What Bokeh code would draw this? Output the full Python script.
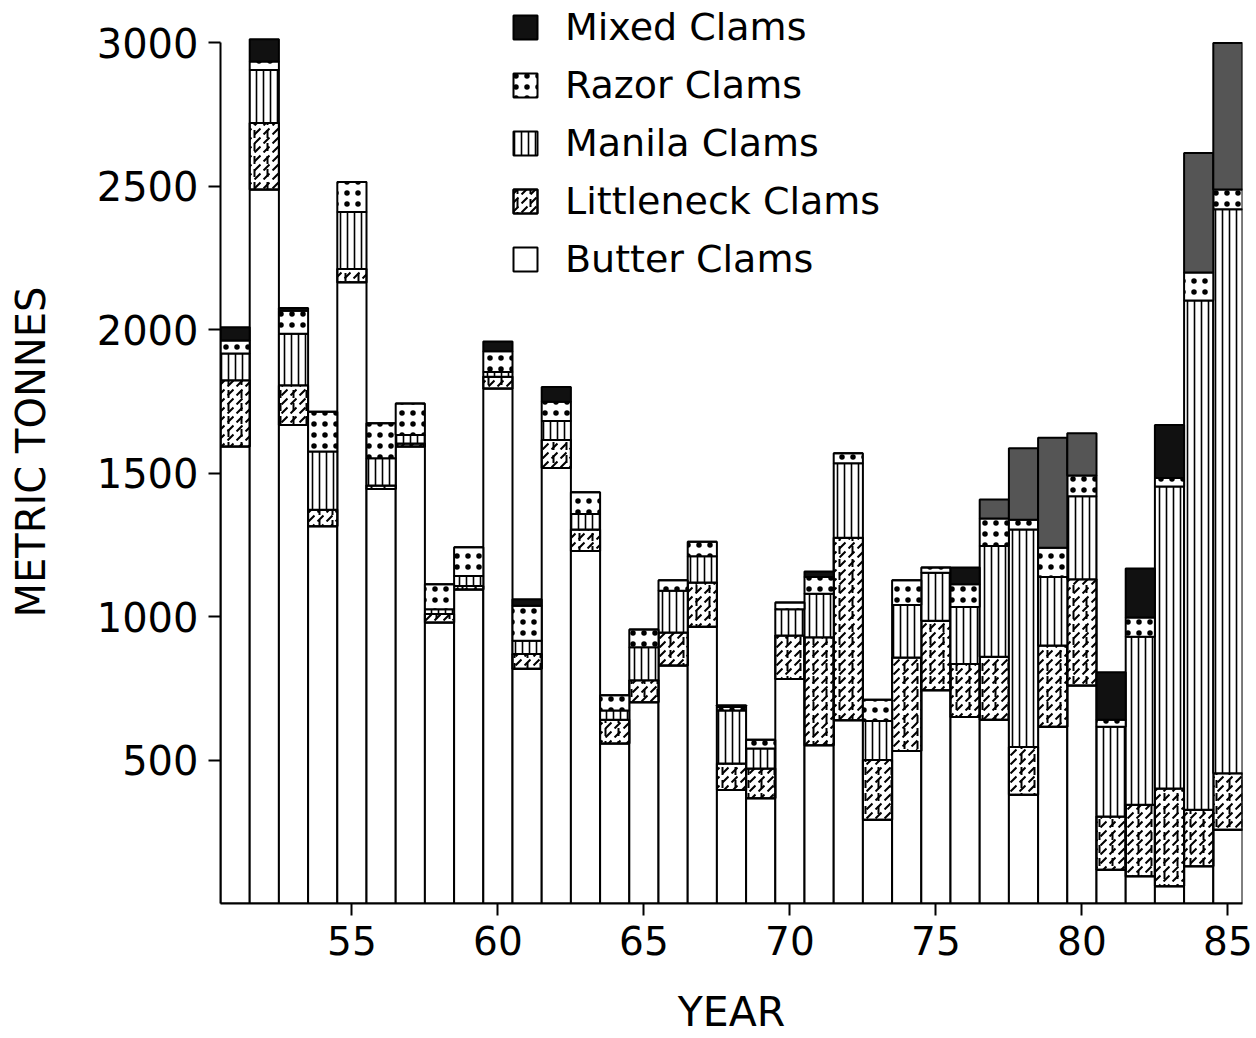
from bokeh.plotting import figure
from bokeh.models import ColumnDataSource, Legend, LegendItem, FixedTicker
from bokeh.transform import stack
from bokeh.embed import file_html
from bokeh.resources import INLINE

# ---------------- data (metric tonnes) ----------------
years = list(range(51, 86))
butter = [1593, 2489, 1668, 1315, 2166, 1445, 1593, 980, 1095, 1795,
          818, 1518, 1229, 558, 702, 830, 965, 396, 367, 783,
          552, 639, 292, 532, 743, 650, 641, 379, 616, 760,
          118, 95, 60, 130, 257]
littleneck = [231, 232, 139, 58, 46, 12, 11, 29, 12, 41,
              52, 98, 75, 83, 76, 115, 154, 92, 104, 151,
              376, 636, 208, 326, 243, 185, 219, 167, 283, 370,
              185, 249, 341, 197, 197]
manila = [93, 185, 179, 203, 199, 95, 29, 17, 35, 17,
          46, 66, 54, 32, 115, 145, 92, 185, 69, 92,
          152, 260, 136, 183, 167, 199, 386, 758, 239, 290,
          313, 586, 1053, 1775, 1966]
razor = [46, 29, 80, 138, 104, 122, 110, 87, 100, 72,
         122, 67, 76, 53, 62, 37, 50, 12, 31, 23,
         58, 35, 74, 86, 18, 79, 96, 34, 102, 72,
         25, 67, 29, 98, 69]
mixed = [46, 78, 10, 0, 0, 0, 0, 0, 0, 34,
         23, 52, 0, 0, 0, 0, 0, 6, 0, 0,
         19, 0, 0, 0, 0, 58, 66, 249, 384, 147,
         165, 171, 185, 416, 511]
series = ["Butter Clams", "Littleneck Clams", "Manila Clams", "Razor Clams", "Mixed Clams"]
x_ticks = [55, 60, 65, 70, 75, 80, 85]
y_ticks = [500, 1000, 1500, 2000, 2500, 3000]

# ---------------- styling ----------------
FONT = "DejaVu Sans"
grey_years = {77, 78, 79, 80, 84, 85}   # mixed clams appear grey in the print
mixed_color = ["#555555" if y in grey_years else "#111111" for y in years]

src = ColumnDataSource(dict(year=years, butter=butter, littleneck=littleneck,
                            manila=manila, razor=razor, mixed=mixed,
                            mixed_color=mixed_color))

p = figure(width=1256, height=1038, x_range=(50.5, 85.5), y_range=(0, 3148),
           output_backend="svg", toolbar_location=None,
           min_border_left=220, min_border_right=14, min_border_top=0,
           min_border_bottom=131)
p.outline_line_color = None
p.xgrid.visible = False
p.ygrid.visible = False
p.background_fill_color = "white"
p.border_fill_color = "white"

common = dict(x="year", width=1.0, source=src, line_color="black", line_width=2)

r_butter = p.vbar(bottom=0, top=stack("butter"), fill_color="white", **common)
r_ln1 = p.vbar(bottom=stack("butter"), top=stack("butter", "littleneck"),
               fill_color="white", hatch_pattern="right_diagonal_dash",
               hatch_color="black", hatch_scale=9, hatch_weight=2, **common)
r_ln2 = p.vbar(bottom=stack("butter"), top=stack("butter", "littleneck"),
               fill_color=None, hatch_pattern="vertical_dash",
               hatch_color="black", hatch_scale=13, hatch_weight=2, **common)
r_manila = p.vbar(bottom=stack("butter", "littleneck"),
                  top=stack("butter", "littleneck", "manila"),
                  fill_color="white", hatch_pattern="vertical_line",
                  hatch_color="black", hatch_scale=7, hatch_weight=1.6, **common)
r_razor = p.vbar(bottom=stack("butter", "littleneck", "manila"),
                 top=stack("butter", "littleneck", "manila", "razor"),
                 fill_color="white", hatch_pattern="dot",
                 hatch_color="black", hatch_scale=11, hatch_weight=2.5, **common)
r_mixed = p.vbar(bottom=stack("butter", "littleneck", "manila", "razor"),
                 top=stack("butter", "littleneck", "manila", "razor", "mixed"),
                 fill_color="mixed_color", **common)

# ---------------- axes ----------------
for ax in (p.xaxis[0], p.yaxis[0]):
    ax.axis_line_width = 2
    ax.axis_line_color = "black"
    ax.major_tick_line_width = 2
    ax.major_tick_in = 0
    ax.major_tick_out = 12
    ax.minor_tick_line_color = None
    ax.major_label_text_font = FONT
    ax.major_label_text_color = "black"
    ax.axis_label_text_font = FONT
    ax.axis_label_text_font_style = "normal"
    ax.axis_label_text_color = "black"

p.xaxis.ticker = FixedTicker(ticks=x_ticks)
p.xaxis.major_label_text_font_size = "39px"
p.xaxis.major_label_standoff = 10
p.xaxis.axis_label = "YEAR"
p.xaxis.axis_label_text_font_size = "41px"
p.xaxis.axis_label_standoff = 30

p.yaxis.ticker = FixedTicker(ticks=y_ticks)
p.yaxis.bounds = (0, 3000)
p.yaxis.major_label_text_font_size = "40px"
p.yaxis.major_label_standoff = 10
p.yaxis.axis_label = "METRIC TONNES"
p.yaxis.axis_label_text_font_size = "40px"
p.yaxis.axis_label_standoff = 40

# ---------------- legend ----------------
renderers = {"Butter Clams": [r_butter], "Littleneck Clams": [r_ln1, r_ln2],
             "Manila Clams": [r_manila], "Razor Clams": [r_razor],
             "Mixed Clams": [r_mixed]}
items = [LegendItem(label=s, renderers=renderers[s]) for s in reversed(series)]
legend = Legend(items=items, location=(290, 622), orientation="vertical",
                background_fill_alpha=0, border_line_color=None,
                padding=0, margin=0, spacing=14,
                glyph_width=30, glyph_height=30, label_height=44,
                label_standoff=25, label_text_font=FONT,
                label_text_font_size="38px", label_text_color="black")
p.add_layout(legend, "center")

open("out.html", "w").write(file_html(p, INLINE))
